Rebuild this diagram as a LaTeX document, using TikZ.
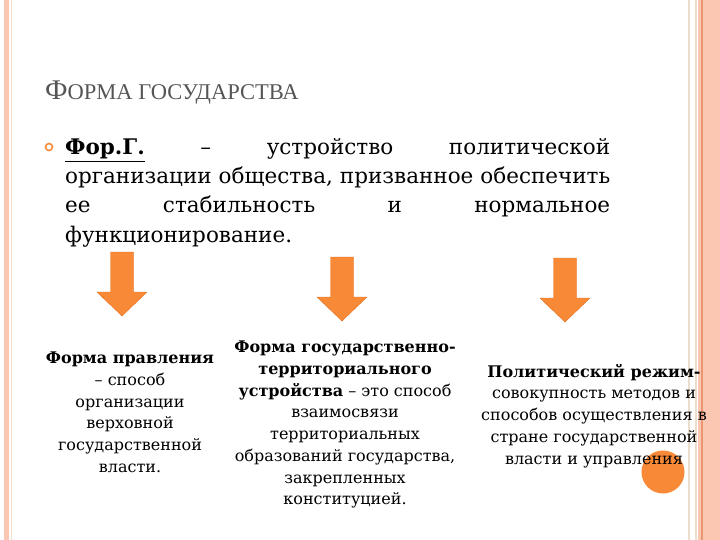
\documentclass[tikz,border=0pt]{standalone}
\usepackage{fontspec}
\setmainfont{DejaVu Serif}
\newfontfamily\titlefont{Liberation Serif}
\definecolor{arrowfill}{RGB}{247,137,55}
\definecolor{arrowedge}{RGB}{226,110,30}
\definecolor{stripsalmon}{RGB}{251,198,178}
\definecolor{stripdark}{RGB}{234,150,115}
\definecolor{stripbeige}{RGB}{236,222,205}
\definecolor{titlegray}{RGB}{85,85,85}

\begin{document}
\begin{tikzpicture}[x=1pt,y=-1pt,
  coltext/.style={anchor=north,inner sep=0pt,align=center,font=\fontsize{16}{21.7}\selectfont},
  bodyline/.style={anchor=base west,inner sep=0pt,font=\fontsize{21.5}{29}\selectfont}]
\useasboundingbox (0,0) rectangle (720,540);

% frame strips
\fill[stripsalmon](4,0) rectangle (9,540);
\draw[stripbeige,line width=1pt](11,0)--(11,540);
\draw[stripbeige,line width=1.5pt](689,0)--(689,540);
\draw[stripbeige,line width=1.5pt](696,0)--(696,540);
\fill[stripsalmon](698,0) rectangle (720,540);
\draw[stripdark,line width=1.5pt](702,0)--(702,540);

% title
\node[anchor=base west,inner sep=0pt,text=titlegray] (title) at (45,100)
  {\titlefont\fontsize{28.5}{28.5}\selectfont Ф\fontsize{22.5}{22.5}\selectfont ОРМА ГОСУДАРСТВА};

% definition
\node[circle,draw=arrowfill,line width=1.6pt,minimum size=7pt,inner sep=0pt] (bullet) at (49,147) {};
\node[bodyline] (line1) at (65,155) {\makebox[545pt][s]{\underline{\textbf{Фор.Г.}} – устройство политической}};
\node[bodyline] (line2) at (65,184) {\makebox[545pt][s]{организации общества, призванное обеспечить}};
\node[bodyline] (line3) at (65,213) {\makebox[545pt][s]{ее стабильность и нормальное}};
\node[bodyline] (line4) at (65,242) {функционирование.};

% arrows
\foreach \x/\y in {122/252,342/257,565/258}
  \draw[arrowedge,fill=arrowfill,line join=round]
    (\x-11.5,\y)--(\x+11.5,\y)--(\x+11.5,\y+40)--(\x+25,\y+40)--(\x,\y+64)
    --(\x-25,\y+40)--(\x-11.5,\y+40)--cycle;

\fill[arrowfill] (663,472) circle (21.5);

% three forms
\node[coltext] (pravl) at (130,352) {\textbf{Форма правления}\\– способ\\организации\\верховной\\государственной\\власти.};
\node[coltext] (ustr) at (345,341) {\textbf{Форма государственно-}\\\textbf{территориального}\\\textbf{устройства} – это способ\\взаимосвязи\\территориальных\\образований государства,\\закрепленных\\конституцией.};
\node[coltext] (rezhim) at (594,364) {\textbf{Политический режим-}\\совокупность методов и\\способов осуществления в\\стране государственной\\власти и управления};
\end{tikzpicture}
\end{document}
